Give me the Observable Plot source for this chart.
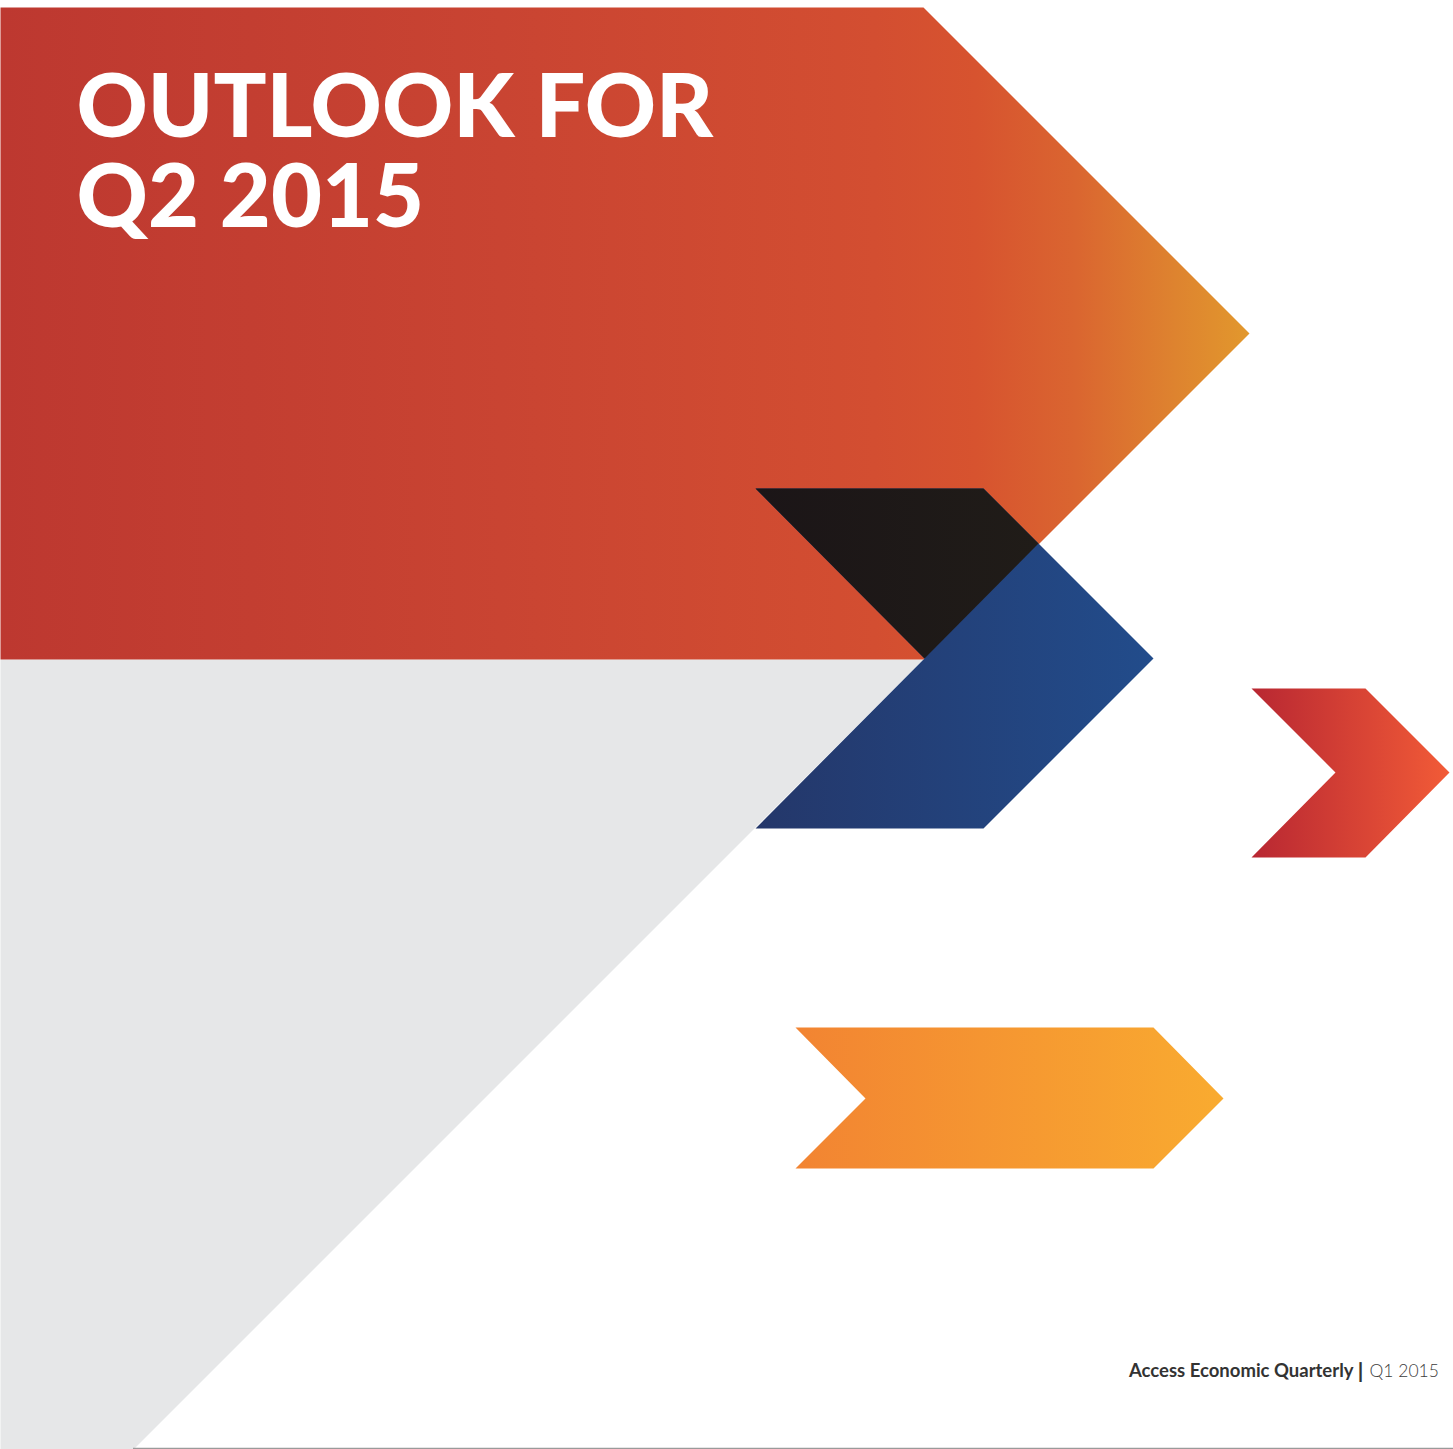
<!DOCTYPE html>
<html>
<head>
<meta charset="utf-8">
<script src="https://cdn.jsdelivr.net/npm/d3@7"></script>
<script src="https://cdn.jsdelivr.net/npm/@observablehq/plot@0.6"></script>
<style>
  html, body { margin: 0; padding: 0; background: #ffffff; }
  #chart svg { display: block; }
</style>
</head>
<body>
<div id="chart"></div>
<script>
// ---- Data: shape outlines in page units (x across, y down) ----
const redBanner   = [[0,7],[923,7],[1249,333],[923,659],[0,659]];
const greyWedge   = [[0,659],[923,659],[133,1449],[0,1449]];
const blueChevron = [[755,488],[983,488],[1153,658],[983,828],[755,828],[924,658]];
const darkOverlap = [[755,488],[983,488],[1038,543],[924,658]];
const redChevron  = [[1251,688],[1365,688],[1449,772],[1365,857],[1251,857],[1335,772]];
const amberChevron= [[795,1027],[1153,1027],[1223,1098],[1153,1168],[795,1168],[865,1098]];

const titleLines  = ["OUTLOOK FOR", "Q2 2015"];
const footerParts = ["Access Economic Quarterly", "|", "Q1 2015"];
const baseRule    = [{y: 1448, x1: 133, x2: 1453}];

// gradient definitions (colour stops along x)
const gradients = {
  gRed:   [[0,"#bd3830"],[0.4,"#c94432"],[0.7,"#d34e31"],[0.78,"#d7532f"],[0.86,"#da6530"],[0.94,"#de832f"],[1,"#e2982d"]],
  gBlue:  [[0,"#24376a"],[1,"#224c8b"]],
  gDark:  [[0,"#1b1517"],[1,"#201c18"]],
  gRed2:  [[0,"#b82732"],[1,"#f25b37"]],
  gAmber: [[0,"#f28432"],[1,"#f9ab30"]]
};

const toPts = arr => arr.map(([x, y]) => ({x, y}));

const defsMark = () => {
  const defs = d3.create("svg:defs");
  for (const [id, stops] of Object.entries(gradients)) {
    const g = defs.append("linearGradient").attr("id", id)
      .attr("x1", "0").attr("x2", "1").attr("y1", "0").attr("y2", "0");
    for (const [o, c] of stops) g.append("stop").attr("offset", o).attr("stop-color", c);
  }
  return defs.node();
};

const shape = (pts, fill) => Plot.line(toPts(pts), {x: "x", y: "y", fill, stroke: "none", curve: "linear-closed"});

const chart = Plot.plot({
  width: 1453,
  height: 1449,
  margin: 0,
  x: {domain: [0, 1453], range: [0, 1453], axis: null},
  y: {domain: [0, 1449], range: [0, 1449], axis: null},
  style: {background: "#ffffff", fontFamily: "Lato, 'Open Sans', sans-serif"},
  marks: [
    defsMark,
    shape(greyWedge, "#e6e7e8"),
    shape(redBanner, "url(#gRed)"),
    shape(blueChevron, "url(#gBlue)"),
    shape(darkOverlap, "url(#gDark)"),
    shape(redChevron, "url(#gRed2)"),
    shape(amberChevron, "url(#gAmber)"),
    Plot.ruleY(baseRule, {y: "y", x1: "x1", x2: "x2", stroke: "#9a9a9a", strokeWidth: 1.5}),
    Plot.text([titleLines.join("\n")], {
      text: d => d,
      x: () => 76,
      y: () => 226,
      textAnchor: "start",
      lineAnchor: "bottom",
      lineHeight: 90 / 88,
      fill: "#ffffff",
      fontSize: 88,
      fontWeight: 900,
      fontFamily: "Lato, sans-serif"
    }),
    Plot.text([footerParts[0]], {
      text: d => d, x: () => 1353, y: () => 1376, textAnchor: "end", lineAnchor: "bottom",
      fill: "#333333", fontSize: 18.5, fontWeight: 700, fontFamily: "Lato, sans-serif"
    }),
    Plot.text([footerParts[1]], {
      text: d => d, x: () => 1360, y: () => 1378, textAnchor: "middle", lineAnchor: "bottom",
      fill: "#333333", fontSize: 21, fontWeight: 900, fontFamily: "Lato, sans-serif"
    }),
    Plot.text([footerParts[2]], {
      text: d => d, x: () => 1369, y: () => 1376, textAnchor: "start", lineAnchor: "bottom",
      fill: "#3c3c3c", fontSize: 17.5, fontWeight: 300, fontFamily: "Lato, sans-serif"
    })
  ]
});

document.getElementById("chart").append(chart);
</script>
</body>
</html>
